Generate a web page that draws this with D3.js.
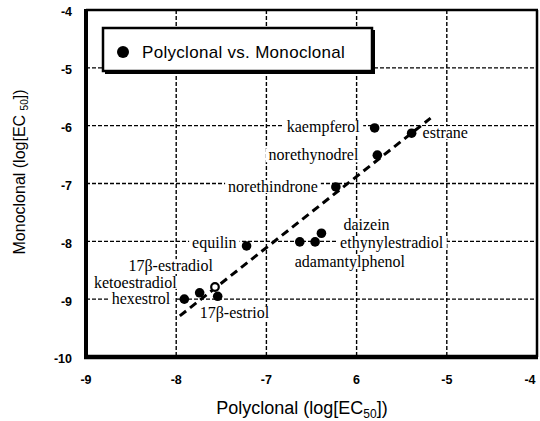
<!DOCTYPE html>
<html>
<head>
<meta charset="utf-8">
<script src="https://cdn.jsdelivr.net/npm/d3@7"></script>
<style>
  body { margin: 0; background: #fff; }
</style>
</head>
<body>
<svg width="540" height="421"></svg>
<script>
// compounds, log EC50 on both antibodies
const compounds = [
    "kaempferol", "estrane", "norethynodrel", "norethindrone",
    "daizein", "ethynylestradiol", "adamantylphenol", "equilin",
    "17β-estradiol", "ketoestradiol", "hexestrol", "17β-estriol"
];
const polyclonal = [-5.80, -5.39, -5.77, -6.23, -6.39, -6.46, -6.63, -7.22, -7.57, -7.74, -7.91, -7.54];
const monoclonal = [-6.04, -6.13, -6.51, -7.06, -7.86, -8.01, -8.01, -8.08, -8.79, -8.89, -9.00, -8.95];
// drawn as an open circle
const openMarkers = ["17β-estradiol"];

// dashed fit line ends
const fitX = [-7.96, -5.18];
const fitY = [-9.29, -5.87];

const xTicks = [-9, -8, -7, -6, -5, -4];
const xTickLabels = ["-9", "-8", "-7", "6", "-5", "-4"];
const yTicks = [-4, -5, -6, -7, -8, -9, -10];
const yTickLabels = ["-4", "-5", "-6", "-7", "-8", "-9", "-10"];
const xGrid = [-8, -7, -6, -5];
const yGrid = [-5, -6, -7, -8, -9];

const legendText = "Polyclonal vs. Monoclonal";

// label placement next to each point: anchor, dx, dy (px)
const labelPlace = {
    "kaempferol": ["end", -15, -1],
    "estrane": ["start", 11, 0],
    "norethynodrel": ["end", -19, 0],
    "norethindrone": ["end", -18, 0],
    "daizein": ["start", 22, -8],
    "ethynylestradiol": ["start", 25, 1],
    "adamantylphenol": ["start", -5, 20],
    "equilin": ["end", -10, -3],
    "17β-estradiol": ["end", -2, -21],
    "ketoestradiol": ["end", -23, -10],
    "hexestrol": ["end", -14, 0],
    "17β-estriol": ["start", -18, 17]
};

const svg = d3.select("svg");
const pLeft = 86, pRight = 537, pTop = 10, pBottom = 357;

const x = d3.scaleLinear().domain([-9, -4]).range([pLeft, pRight]);
const y = d3.scaleLinear().domain([-10, -4]).range([pBottom, pTop]);

const data = compounds.map((name, i) => ({ name, px: polyclonal[i], mc: monoclonal[i] }));

// grid
const grid = svg.append("g")
    .attr("stroke", "#000")
    .attr("stroke-width", 1.4)
    .attr("stroke-dasharray", "4,2");
grid.selectAll("line.v")
    .data(xGrid)
    .join("line")
    .attr("class", "v")
    .attr("x1", d => x(d)).attr("x2", d => x(d))
    .attr("y1", pTop).attr("y2", pBottom);
grid.selectAll("line.h")
    .data(yGrid)
    .join("line")
    .attr("class", "h")
    .attr("x1", pLeft).attr("x2", pRight)
    .attr("y1", d => y(d)).attr("y2", d => y(d));

// point labels with white backing so the grid breaks around them
const labels = svg.append("g")
    .style("font", "16px 'Liberation Serif', 'Times New Roman', serif")
    .selectAll("g")
    .data(data)
    .join("g");
labels.append("text")
    .attr("x", d => x(d.px) + labelPlace[d.name][1])
    .attr("y", d => y(d.mc) + labelPlace[d.name][2])
    .attr("dy", "0.32em")
    .attr("text-anchor", d => labelPlace[d.name][0])
    .attr("fill", "#000")
    .text(d => d.name);
labels.each(function () {
    const g = d3.select(this);
    const b = g.select("text").node().getBBox();
    g.insert("rect", "text")
        .attr("x", b.x - 3).attr("y", b.y + 2)
        .attr("width", b.width + 6).attr("height", b.height - 4)
        .attr("fill", "#fff");
});

// fit line
svg.append("line")
    .attr("x1", x(fitX[0])).attr("y1", y(fitY[0]))
    .attr("x2", x(fitX[1])).attr("y2", y(fitY[1]))
    .attr("stroke", "#000")
    .attr("stroke-width", 3)
    .attr("stroke-dasharray", "8,5");

// points
svg.append("g")
    .selectAll("circle")
    .data(data)
    .join("circle")
    .attr("cx", d => x(d.px))
    .attr("cy", d => y(d.mc))
    .attr("r", d => openMarkers.includes(d.name) ? 3.8 : 4.8)
    .attr("fill", d => openMarkers.includes(d.name) ? "#fff" : "#000")
    .attr("stroke", "#000")
    .attr("stroke-width", d => openMarkers.includes(d.name) ? 2.2 : 0);

// frame: heavy left/bottom, lighter top/right
const frame = svg.append("g").attr("stroke", "#000");
frame.append("line").attr("x1", pLeft).attr("x2", pRight + 1).attr("y1", pTop).attr("y2", pTop).attr("stroke-width", 2.5);
frame.append("line").attr("x1", pRight).attr("x2", pRight).attr("y1", pTop).attr("y2", pBottom).attr("stroke-width", 2.5);
frame.append("line").attr("x1", pLeft).attr("x2", pLeft).attr("y1", pTop - 1).attr("y2", pBottom + 2).attr("stroke-width", 4);
frame.append("line").attr("x1", pLeft - 2).attr("x2", pRight + 1).attr("y1", pBottom).attr("y2", pBottom).attr("stroke-width", 4.5);

// tick labels
const tickFont = "bold 12.5px 'Liberation Sans', Arial, sans-serif";
svg.append("g")
    .style("font", tickFont)
    .selectAll("text")
    .data(xTicks)
    .join("text")
    .attr("x", d => Math.min(x(d), 530))
    .attr("y", pBottom + 23)
    .attr("dy", "0.35em")
    .attr("text-anchor", "middle")
    .text((d, i) => xTickLabels[i]);
svg.append("g")
    .style("font", tickFont)
    .selectAll("text")
    .data(yTicks)
    .join("text")
    .attr("x", pLeft - 14)
    .attr("y", d => y(d) + 2)
    .attr("dy", "0.35em")
    .attr("text-anchor", "end")
    .text((d, i) => yTickLabels[i]);

// axis titles
const xt = svg.append("text")
    .attr("x", 302).attr("y", 414)
    .attr("text-anchor", "middle")
    .style("font", "18px 'Liberation Sans', Arial, sans-serif");
xt.append("tspan").text("Polyclonal (log[EC");
xt.append("tspan").attr("font-size", "12px").attr("dy", 4).text("50");
xt.append("tspan").attr("dy", -4).text("])");

const yt = svg.append("text")
    .attr("transform", "translate(25,172) rotate(-90)")
    .attr("text-anchor", "middle")
    .style("font", "16px 'Liberation Sans', Arial, sans-serif");
yt.append("tspan").text("Monoclonal (log[EC ");
yt.append("tspan").attr("font-size", "10px").attr("dy", 3).text("50");
yt.append("tspan").attr("dy", -3).text("])");

// legend
const legend = svg.append("g");
legend.append("rect")
    .attr("x", 105).attr("y", 30).attr("width", 270).attr("height", 44)
    .attr("fill", "#000");
legend.append("rect")
    .attr("x", 103).attr("y", 28).attr("width", 269).attr("height", 43)
    .attr("fill", "#fff").attr("stroke", "#000").attr("stroke-width", 2.5);
legend.append("circle")
    .attr("cx", 123).attr("cy", 52).attr("r", 6).attr("fill", "#000");
legend.append("text")
    .attr("x", 142).attr("y", 52).attr("dy", "0.35em")
    .style("font", "17px 'Liberation Sans', Arial, sans-serif")
    .style("letter-spacing", "0.3px")
    .text(legendText);
</script>
</body>
</html>
